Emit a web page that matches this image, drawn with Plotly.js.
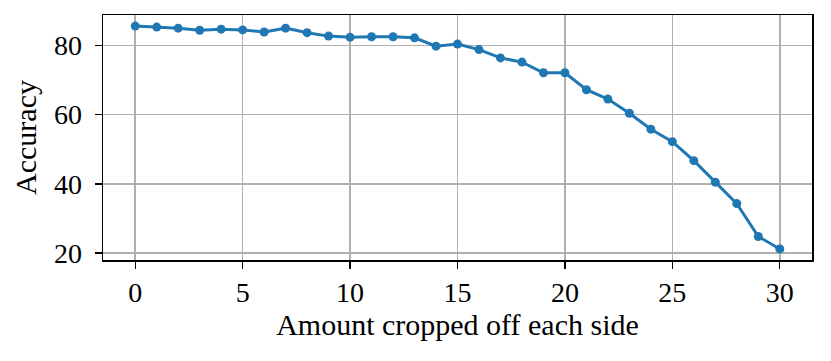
<!DOCTYPE html>
<html>
<head>
<meta charset="utf-8">
<script src="https://cdn.plot.ly/plotly-3.0.1.min.js"></script>
<style>
  html, body { margin: 0; padding: 0; background: #fff; }
  #chart { width: 831px; height: 361px; }
</style>
</head>
<body>
<div id="chart"></div>
<script>
var cropAmount = [0, 1, 2, 3, 4, 5, 6, 7, 8, 9, 10, 11, 12, 13, 14, 15,
  16, 17, 18, 19, 20, 21, 22, 23, 24, 25, 26, 27, 28, 29, 30];
var accuracy = [85.6, 85.3, 85.0, 84.4, 84.7, 84.5, 83.9, 85.0, 83.7, 82.7, 82.4,
  82.5, 82.5, 82.2, 79.8, 80.4, 78.8, 76.4, 75.2, 72.1, 72.1, 67.2, 64.5,
  60.4, 55.8, 52.2, 46.7, 40.5, 34.3, 24.8, 21.2];
var xTicks = [0, 5, 10, 15, 20, 25, 30];
var yTicks = [20, 40, 60, 80];

var trace = {
  x: cropAmount,
  y: accuracy,
  type: "scatter",
  mode: "lines+markers",
  line: { color: "#1f77b4", width: 3 },
  marker: { color: "#1f77b4", size: 9 },
  hoverinfo: "x+y"
};

var axisStyle = {
  showline: true,
  mirror: true,
  linecolor: "#000",
  linewidth: 1.5,
  ticks: "outside",
  ticklen: 7,
  tickwidth: 1.3,
  tickcolor: "#000",
  showgrid: true,
  gridcolor: "#b0b0b0",
  gridwidth: 1.5,
  zeroline: false,
  tickfont: { family: "Liberation Serif, Times New Roman, serif", size: 28, color: "#000" }
};

var layout = {
  width: 831,
  height: 361,
  margin: { l: 103, r: 19, t: 15, b: 101 },
  paper_bgcolor: "#fff",
  plot_bgcolor: "#fff",
  showlegend: false,
  font: { family: "Liberation Serif, Times New Roman, serif", color: "#000" },
  xaxis: Object.assign({}, axisStyle, {
    range: [-1.5, 31.5],
    tickvals: xTicks,
    title: { text: "Amount cropped off each side", font: { size: 30 }, standoff: 4 }
  }),
  yaxis: Object.assign({}, axisStyle, {
    range: [18.0, 88.8],
    tickvals: yTicks,
    ticklabelstandoff: 7,
    title: { text: "Accuracy", font: { size: 30 }, standoff: 8 }
  })
};

Plotly.newPlot("chart", [trace], layout, { displayModeBar: false, staticPlot: true });
</script>
</body>
</html>
